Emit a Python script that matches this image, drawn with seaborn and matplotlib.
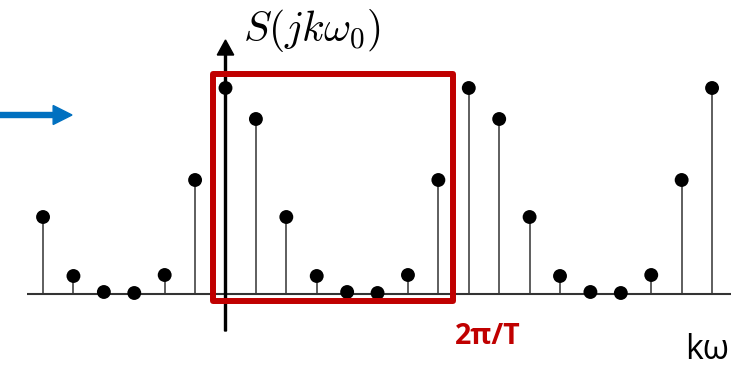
import numpy as np
import pandas as pd
import matplotlib
matplotlib.use("Agg")
import matplotlib.pyplot as plt
from matplotlib.patches import Rectangle
import seaborn as sns

# Line spectrum |S(jk w0)|: harmonic index and magnitude (periodic, period 8)
k_values = list(range(-6, 17))
magnitudes = [77, 18, 2, 1, 19, 114,
              206, 175, 77, 18, 2, 1, 19, 114,
              206, 175, 77, 18, 2, 1, 19, 114,
              206]

# One period highlighted by the box
period_start = 0
period_end = 7

y_label = r"$S(jk\omega_0)$"
period_label = "2π/T"
x_label = "kω"

sns.set_theme(style="white")
plt.rcParams["mathtext.fontset"] = "cm"

df = pd.DataFrame({"k": k_values, "S": magnitudes})

W, H, DPI = 731, 370, 100
fig = plt.figure(figsize=(W / DPI, H / DPI), dpi=DPI)
ax = fig.add_axes([0, 0, 1, 1])
ax.set_axis_off()

# scale: one harmonic step ~30.4 px, magnitude in px
step_px = 30.41
k0_px = 225.5
base_px = 294
xlim = (-k0_px / step_px, (W - k0_px) / step_px)
ylim = (-(H - base_px), base_px)
ax.set_xlim(*xlim)
ax.set_ylim(*ylim)

# frequency axis (baseline)
ax.plot([-6.53, xlim[1]], [0, 0], color="#333333", lw=1.5,
        solid_capstyle="butt", zorder=1)

# stems
ax.vlines(df["k"], 0, df["S"], color="#333333", lw=1.1, zorder=2)

# vertical axis with arrow head
ax.arrow(0, -37, 0, 291, width=0.065, head_width=0.54, head_length=15,
         length_includes_head=True, color="black", zorder=3)

# stem heads
sns.scatterplot(data=df, x="k", y="S", color="black", s=100, edgecolor="none",
                ax=ax, zorder=4, legend=False)
ax.set_xlim(*xlim)
ax.set_ylim(*ylim)

# box around one period of the spectrum
box = Rectangle((period_start - 0.41, -7), (period_end + 0.48) - (period_start - 0.41),
                227.5, fill=False, edgecolor="#C00000", lw=4.3,
                joinstyle="round", zorder=5)
ax.add_patch(box)

# blue pointer arrow on the left
ax.arrow(xlim[0], 179, (72 - k0_px) / step_px - xlim[0], 0,
         width=5, head_width=19, head_length=0.62, length_includes_head=True,
         color="#0070C0", zorder=5)

# labels
fig.text(243 / W, 1 - 31 / H, y_label, fontsize=30, ha="left", va="center",
         color="black")
fig.text(455 / W, 1 - 337 / H, period_label, fontsize=20.5, fontweight="bold",
         ha="left", va="center", color="#C00000",
         family=["Open Sans", "DejaVu Sans"])
fig.text(685 / W, 1 - 350 / H, x_label, fontsize=24.5, ha="left", va="center",
         color="black", family=["Open Sans", "DejaVu Sans"])

fig.savefig("out.png", dpi=DPI, facecolor="white")
